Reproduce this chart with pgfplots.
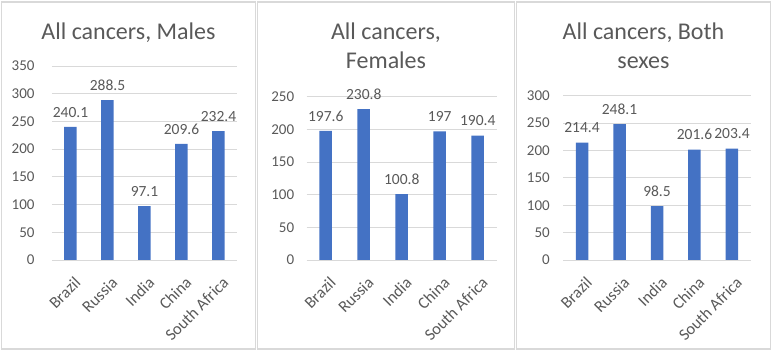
\documentclass[border=0pt]{standalone}
\usepackage{pgfplots}
\pgfplotsset{compat=1.18}
\usepackage{fontspec}
\setmainfont{Carlito}
\definecolor{barblue}{HTML}{4472C4}
\definecolor{txt}{HTML}{595959}
\definecolor{gridc}{HTML}{D9D9D9}
\pgfplotsset{
  brics/.style={
    scale only axis,
    anchor=south west,
    ybar, bar width=12.5pt,
    xmin=-0.5, xmax=4.5, ymin=0,
    xtick={0,1,2,3,4},
    xticklabels={Brazil,Russia,India,China,South Africa},
    ymajorgrids,
    grid style={gridc, line width=0.9pt},
    axis x line=bottom, axis y line=left,
    axis line style={draw=none,-},
    major tick length=0pt,
    /pgf/number format/assume math mode=true,
    tick label style={font=\fontsize{15}{17}\selectfont, text=txt},
    xticklabel style={xshift=3pt, rotate=45, anchor=north east, inner sep=0pt, font=\fontsize{16.5}{18}\selectfont},
    xticklabel shift=15.5pt,
    nodes near coords,
    every node near coord/.append style={font=\fontsize{15.5}{17}\selectfont, text=txt, yshift=6pt},
    clip=false,
  }
}
\begin{document}
\begin{tikzpicture}
\path[use as bounding box] (0,0) rectangle (773pt,352pt);
\draw[gridc, line width=1.5pt] (1.5pt,3pt) rectangle (255.5pt,350pt);
\draw[gridc, line width=1.5pt] (257.5pt,3pt) rectangle (514.5pt,350pt);
\draw[gridc, line width=1.5pt] (516.5pt,3pt) rectangle (770.5pt,350pt);
\begin{axis}[brics, at={(52pt,92pt)}, width=185pt, height=194pt, ymax=350,
  ytick={0,50,...,350}, yticklabel style={xshift=-14pt}]
\addplot[fill=barblue, draw=none] coordinates {(0,240.1) (1,288.5) (2,97.1) (3,209.6) (4,232.4)};
\end{axis}
\begin{axis}[brics, at={(306.7pt,92pt)}, width=190pt, height=163.3pt, ymax=250,
  ytick={0,50,...,250}, yticklabel style={xshift=-9pt}]
\addplot[fill=barblue, draw=none] coordinates {(0,197.6) (1,230.8) (2,100.8) (3,197) (4,190.4)};
\end{axis}
\begin{axis}[brics, at={(563.3pt,92pt)}, width=187.4pt, height=164.3pt, ymax=300,
  ytick={0,50,...,300}, yticklabel style={xshift=-10pt}]
\addplot[fill=barblue, draw=none] coordinates {(0,214.4) (1,248.1) (2,98.5) (3,201.6) (4,203.4)};
\end{axis}
\begin{scope}[every node/.style={font=\fontsize{24}{28}\selectfont, text=txt, anchor=base}]
\node at (128.5pt,312.5pt) {All cancers, Males};
\node at (386pt,312.5pt) {All cancers,};
\node at (386pt,283pt) {Females};
\node at (643.5pt,312.5pt) {All cancers, Both};
\node at (643.5pt,283pt) {sexes};
\end{scope}
\end{tikzpicture}
\end{document}
